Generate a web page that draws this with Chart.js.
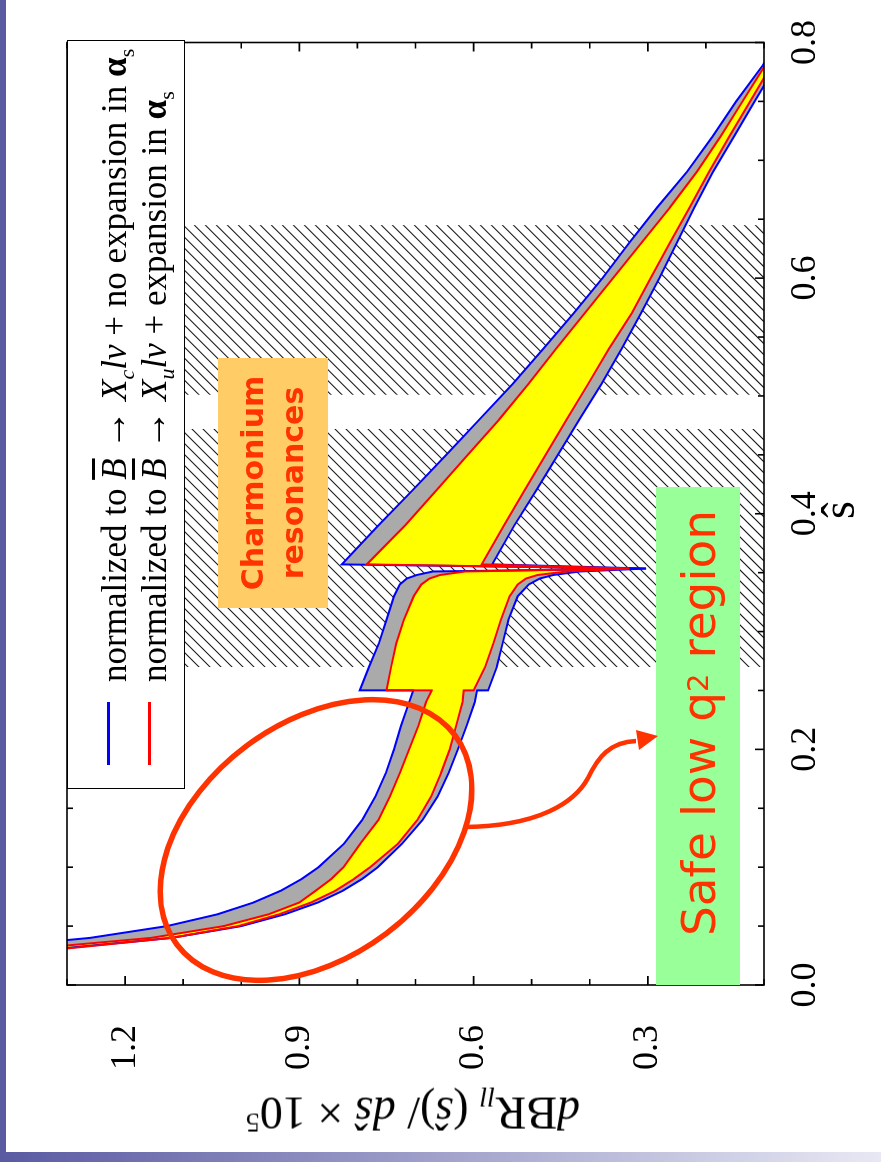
<!DOCTYPE html>
<html>
<head>
<meta charset="utf-8">
<script src="https://cdn.jsdelivr.net/npm/chart.js@4.4.1/dist/chart.umd.min.js"></script>
<style>
  html, body { margin: 0; padding: 0; background: #fff; }
  body { width: 881px; height: 1162px; position: relative; overflow: hidden; }
  #sidebar { position: absolute; left: 0; top: 0; width: 6px; height: 1152px; background: #5a5aa2; }
  #footbar { position: absolute; left: 0; top: 1152px; width: 881px; height: 10px;
             background: linear-gradient(to right, #5a5aa2, #e8e8f4); }
  /* the whole figure is laid out landscape and turned a quarter turn */
  #slide { position: absolute; left: 0; top: 0; width: 1162px; height: 881px;
           transform-origin: 0 0; transform: translate(0, 1162px) rotate(-90deg); }
  #plot { position: absolute; left: 0; top: 0; }
  .serif { font-family: 'Liberation Serif', 'Times New Roman', serif; color: #000; }
  #legend { position: absolute; left: 373px; top: 67px; width: 749px; height: 118px;
            box-sizing: border-box; border: 1.6px solid #000; background: #fff; }
  .lg-line { position: absolute; left: 23px; width: 63px; height: 3px; }
  .lg-text { position: absolute; left: 106px; font-size: 35px; line-height: 40px; white-space: nowrap; }
  .lg-text sub { font-size: 22px; }
  .lg-arrow { font-size: 40px; font-weight: bold; }
  .ob { text-decoration: overline; }
  #ytitle { position: absolute; left: 52px; top: 413px; font-size: 46px; white-space: nowrap;
            transform: translate(-50%, -50%) rotate(-90deg); }
  #xtitle { position: absolute; left: 652px; top: 838px; font-size: 46px;
            transform: translate(-50%, -50%); }
  #charm { position: absolute; left: 554px; top: 218px; width: 250px; height: 110px;
           background: #ffcc66; color: #ff3300; font-weight: bold; font-size: 30px; line-height: 40px;
           font-family: 'Comic Sans MS', 'DejaVu Sans', sans-serif;
           display: flex; align-items: center; justify-content: center; text-align: center; }
  #safe { position: absolute; left: 177px; top: 656px; width: 498px; height: 84px;
          background: #99ff99; color: #ff3300; font-size: 47px;
          font-family: 'Comic Sans MS', 'DejaVu Sans', sans-serif;
          display: flex; align-items: center; justify-content: center; padding-left: 26px; box-sizing: border-box;
          white-space: nowrap; }
  #marks { position: absolute; left: 0; top: 0; }
</style>
</head>
<body>
<div id="sidebar"></div>
<div id="footbar"></div>
<div id="slide">
  <canvas id="plot" width="1162" height="881"></canvas>
  <div id="legend" class="serif">
    <div class="lg-line" style="top:39px; background:#0000ff;"></div>
    <div class="lg-line" style="top:80px; background:#ff0000;"></div>
    <div class="lg-text" style="top:25px;">normalized to <i class="ob">B</i> <span class="lg-arrow">&#8594;</span> <i>X<sub>c</sub>l&#957;</i> + no expansion in <b>&#945;</b><sub>s</sub></div>
    <div class="lg-text" style="top:65px;">normalized to <i class="ob">B</i> <span class="lg-arrow">&#8594;</span> <i>X<sub>u</sub>l&#957;</i> + expansion in <b>&#945;</b><sub>s</sub></div>
  </div>
  <div id="ytitle" class="serif"><i>d</i>BR<sub style="font-size:28px"><i>ll</i></sub> (<i>&#349;</i>)/ <i>d&#349;</i> &#215; 10<sup style="font-size:28px">5</sup></div>
  <div id="xtitle" class="serif">&#349;</div>
  <div id="charm">Charmonium<br>resonances</div>
  <div id="safe">Safe low q<sup style="font-size:29px">2</sup>&nbsp;region</div>
  <svg id="marks" width="1162" height="881">
    <ellipse cx="322" cy="316" rx="174" ry="117" transform="rotate(53 322 316)"
             fill="none" stroke="#ff3300" stroke-width="5.5"/>
    <path d="M335,465 C336,540 360,575 384,588 C405,598 420,610 421,636"
          fill="none" stroke="#ff3300" stroke-width="4.5"/>
    <polygon points="426,658 432,636 412,639" fill="#ff3300"/>
  </svg>
</div>

<script>
// dimensionless dilepton invariant mass s-hat
const SHAT = [0.02, 0.03, 0.04, 0.05, 0.06, 0.07, 0.08, 0.09, 0.10, 0.12, 0.14, 0.16, 0.18, 0.20, 0.22, 0.24, 0.25,
              0.2501, 0.27, 0.29, 0.31, 0.33, 0.34, 0.345, 0.348, 0.351,
              0.3535,
              0.357, 0.39, 0.42, 0.45, 0.48, 0.51, 0.54, 0.57, 0.60, 0.63, 0.66, 0.69, 0.72, 0.75, 0.78, 0.80];

// band normalized to B -> X_c l nu, no alpha_s expansion (upper / lower edge)
const BLUE_UPPER = [1.91, 1.476, 1.26, 1.128, 1.041, 0.979, 0.932, 0.896, 0.867, 0.823, 0.792, 0.769, 0.751, 0.737, 0.725, 0.711, 0.704,
                    0.796, 0.780, 0.763, 0.750, 0.737, 0.727, 0.715, 0.698, 0.670,
                    0.303,
                    0.827, 0.764, 0.705, 0.647, 0.590, 0.533, 0.480, 0.428, 0.378, 0.332, 0.284, 0.233, 0.189, 0.148, 0.103, 0.078];
const BLUE_LOWER = [1.75, 1.33, 1.12, 1.00, 0.925, 0.868, 0.825, 0.792, 0.765, 0.723, 0.688, 0.662, 0.643, 0.627, 0.612, 0.598, 0.594,
                    0.575, 0.560, 0.550, 0.540, 0.524, 0.505, 0.486, 0.463, 0.417,
                    0.303,
                    0.568, 0.530, 0.492, 0.455, 0.418, 0.380, 0.345, 0.312, 0.280, 0.250, 0.220, 0.188, 0.152, 0.116, 0.080, 0.056];

// band normalized to B -> X_u l nu, with alpha_s expansion (upper / lower edge)
const RED_UPPER = [1.80, 1.38, 1.155, 1.03, 0.953, 0.900, 0.872, 0.845, 0.824, 0.795, 0.764, 0.744, 0.727, 0.711, 0.695, 0.682, 0.672,
                   0.750, 0.742, 0.733, 0.720, 0.703, 0.690, 0.676, 0.658, 0.615,
                   0.332,
                   0.784, 0.718, 0.664, 0.610, 0.556, 0.506, 0.458, 0.409, 0.360, 0.311, 0.262, 0.216, 0.175, 0.137, 0.099, 0.073];
const RED_LOWER = [1.74, 1.32, 1.12, 1.005, 0.935, 0.880, 0.838, 0.806, 0.778, 0.730, 0.697, 0.673, 0.656, 0.641, 0.630, 0.619, 0.617,
                   0.600, 0.580, 0.566, 0.553, 0.538, 0.524, 0.510, 0.490, 0.440,
                   0.332,
                   0.586, 0.548, 0.512, 0.476, 0.440, 0.403, 0.367, 0.328, 0.295, 0.262, 0.228, 0.195, 0.160, 0.124, 0.088, 0.064];

// charmonium veto windows in s-hat (hatched)
const VETO_WINDOWS = [[0.27, 0.472], [0.501, 0.645]];

// axis ranges and labelled ticks
const X_RANGE = [0, 0.8];
const Y_RANGE = [0.1, 1.3];
const X_TICK_LABELS = [0.0, 0.2, 0.4, 0.6, 0.8];
const Y_TICK_LABELS = [0.3, 0.6, 0.9, 1.2];
const X_MINOR_STEP = 0.05;
const Y_MINOR_STEP = 0.1;

const pts = ys => SHAT.map((s, i) => ({ x: s, y: ys[i] }));

const hatch = {
  id: 'hatch',
  beforeDraw(chart) {
    const { ctx, chartArea: a, scales: { x } } = chart;
    const h = a.bottom - a.top;
    ctx.save();
    ctx.strokeStyle = '#1a1a1a';
    ctx.lineWidth = 1.1;
    for (const [s0, s1] of VETO_WINDOWS) {
      const x0 = x.getPixelForValue(s0), x1 = x.getPixelForValue(s1);
      ctx.save();
      ctx.beginPath();
      ctx.rect(x0, a.top, x1 - x0, h);
      ctx.clip();
      ctx.beginPath();
      for (let k = x0 - h; k < x1 + 11; k += 11) {
        ctx.moveTo(k, a.bottom);
        ctx.lineTo(k + h, a.top);
      }
      ctx.stroke();
      ctx.restore();
    }
    ctx.restore();
  }
};

const frame = {
  id: 'frame',
  afterDatasetsDraw(chart) {
    const { ctx, chartArea: a, scales: { x, y } } = chart;
    ctx.save();
    ctx.strokeStyle = '#000';
    ctx.lineWidth = 1.6;
    ctx.strokeRect(a.left, a.top, a.right - a.left, a.bottom - a.top);
    ctx.beginPath();
    const nx = Math.round((X_RANGE[1] - X_RANGE[0]) / X_MINOR_STEP);
    for (let i = 0; i <= nx; i++) {
      const v = X_RANGE[0] + i * X_MINOR_STEP;
      const px = x.getPixelForValue(v);
      const major = X_TICK_LABELS.some(t => Math.abs(t - v) < 1e-6);
      const L = major ? 9 : 6;
      ctx.moveTo(px, a.bottom); ctx.lineTo(px, a.bottom - L);
      ctx.moveTo(px, a.top); ctx.lineTo(px, a.top + L);
    }
    const ny = Math.round((Y_RANGE[1] - Y_RANGE[0]) / Y_MINOR_STEP);
    for (let i = 0; i <= ny; i++) {
      const v = Y_RANGE[0] + i * Y_MINOR_STEP;
      const py = y.getPixelForValue(v);
      const major = Y_TICK_LABELS.some(t => Math.abs(t - v) < 1e-6);
      const L = major ? 9 : 6;
      ctx.moveTo(a.left, py); ctx.lineTo(a.left + L, py);
      ctx.moveTo(a.right, py); ctx.lineTo(a.right - L, py);
    }
    ctx.stroke();
    ctx.restore();
  }
};

const tickFont = { family: "'Liberation Serif', 'Times New Roman', serif", size: 36 };

new Chart(document.getElementById('plot'), {
  type: 'line',
  data: {
    datasets: [
      { label: 'X_u, expansion (upper)', data: pts(RED_UPPER), borderColor: '#ff0000',
        backgroundColor: '#ffff00', fill: '+1' },
      { label: 'X_u, expansion (lower)', data: pts(RED_LOWER), borderColor: '#ff0000', fill: false },
      { label: 'X_c, no expansion (upper)', data: pts(BLUE_UPPER), borderColor: '#0000ff',
        backgroundColor: '#aaaaaa', fill: '+1' },
      { label: 'X_c, no expansion (lower)', data: pts(BLUE_LOWER), borderColor: '#0000ff', fill: false }
    ]
  },
  options: {
    responsive: false,
    animation: false,
    devicePixelRatio: 1,
    layout: { padding: { left: 0, top: 67, right: 42, bottom: 0 } },
    elements: {
      line: { borderWidth: 2, tension: 0 },
      point: { radius: 0, hoverRadius: 0 }
    },
    plugins: {
      legend: { display: false },
      tooltip: { enabled: false },
      filler: { drawTime: 'beforeDatasetsDraw' }
    },
    scales: {
      x: {
        type: 'linear', min: X_RANGE[0], max: X_RANGE[1],
        grid: { display: false, drawTicks: false }, border: { display: false },
        afterBuildTicks: s => { s.ticks = X_TICK_LABELS.map(v => ({ value: v })); },
        afterFit: s => { s.height = 117; },
        ticks: { font: tickFont, color: '#000', padding: 20, maxRotation: 0,
                 callback: v => Number(v).toFixed(1) }
      },
      y: {
        type: 'linear', min: Y_RANGE[0], max: Y_RANGE[1],
        grid: { display: false, drawTicks: false }, border: { display: false },
        afterBuildTicks: s => { s.ticks = Y_TICK_LABELS.map(v => ({ value: v })); },
        afterFit: s => { s.width = 177; },
        ticks: { font: tickFont, color: '#000', padding: 40,
                 callback: v => Number(v).toFixed(1) }
      }
    }
  },
  plugins: [hatch, frame]
});
</script>
</body>
</html>
